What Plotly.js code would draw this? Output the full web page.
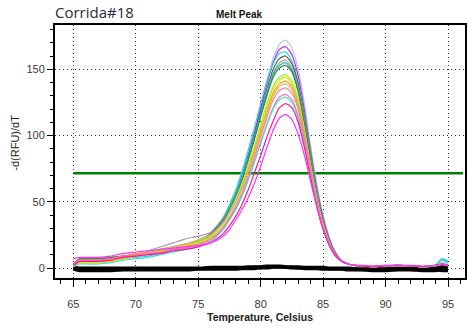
<!DOCTYPE html>
<html>
<head>
<meta charset="utf-8">
<script src="https://cdn.plot.ly/plotly-3.0.1.min.js"></script>
<style>html,body{margin:0;padding:0;background:#fff;}#chart{width:467px;height:331px;}</style>
</head>
<body>
<div id="chart"></div>
<script>
// Temperatures (Celsius)
const temperature = [65,65.5,66,67,68,69,70,71,72,73,74,75,76,76.5,77,77.5,78,78.5,79,79.5,80,80.5,81,81.5,82,82.5,83,83.5,84,84.5,85,85.5,86,86.5,87,87.5,88,89,90,91,92,93,94,94.5,95];

// -d(RFU)/dT melt curves (sample wells)
const wellA = [3,5,5,5,6,8,9,10,12,14,16,19,25,30,37,46,57,71,87,104,123,142,158,169,172,166,150,124,92,63,40,23,12,6,3,2,1.5,1,1.5,2,1.5,1,2,4,3];
const wellB = [2,6,6,6,7,9,10,12,13,15,17,20,25,30,36,45,56,69,85,102,121,139,155,165,167,161,145,119,88,60,38,22,11,5,3,2,1.5,1,1.5,2,1.5,1,2,3,2];
const wellC = [2,4,4,4,5,7,8,9,11,13,15,18,24,30,38,48,59,73,89,106,124,141,154,162,163,156,140,115,86,58,36,21,11,5,3,2,1.5,1,1.5,2,1.5,1,2,6,4];
const wellD = [3,7,7,7,8,9,10,12,14,16,18,21,26,31,37,46,56,69,84,100,118,135,150,158,160,154,139,114,85,57,36,21,11,5,3,2,1.5,1,1.5,2,1.5,1,2,3,2];
const wellE = [2,5,5,5,6,8,10,13,16,19,22,24,27,32,38,46,56,68,83,99,116,133,147,155,157,151,136,112,83,56,35,20,10,5,3,2,1.5,1,1.5,2,1.5,1,2,3,2];
const wellF = [2,5,5,5,6,7,9,11,13,15,17,20,25,30,36,45,55,68,83,99,116,132,146,153,155,149,134,110,82,55,34,20,10,5,3,2,1.5,1,1.5,2,1.5,1,2,7,5];
const wellG = [2,7,7,7,8,9,10,11,13,15,17,20,24,29,35,44,54,66,81,97,114,130,144,151,153,148,133,109,81,54,34,19,10,5,3,2,1.5,1,1.5,2,1.5,1,2,3,2];
const wellH = [1,4,4,4,5,7,9,11,13,15,17,20,24,28,34,42,52,63,77,92,108,124,137,144,146,141,127,104,77,52,32,18,9,5,3,2,1.5,1,1.5,2,1.5,1,2,3,2];
const wellI = [1,4,4,4,5,7,9,11,13,15,17,19,23,28,33,41,51,62,76,91,107,122,135,142,144,139,126,103,77,52,33,19,10,5,3,2,1.5,1,1.5,2,1.5,1,2,3,2];
const wellJ = [2,6,6,6,7,9,11,12,14,16,18,21,25,29,34,41,50,61,74,89,104,119,132,139,141,137,124,102,77,52,33,19,10,5,3,2,2,1.5,2,2,1.5,1,2,3,2];
const wellK = [2,5,5,5,6,8,10,12,14,16,18,21,25,29,34,41,50,60,73,87,102,117,130,137,139,135,122,100,75,51,32,18,9,5,3,2,1.5,1,1.5,2,1.5,1,2,3,2];
const wellL = [2,5,5,5,6,8,9,11,12,14,16,18,22,26,31,38,47,57,70,84,99,114,127,134,136,132,120,98,74,50,31,18,9,5,3,2,1.5,1,1.5,2,1.5,1,2,3,2];
const wellM = [3,6,6,6,7,9,10,11,12,14,15,17,21,25,30,37,45,55,67,81,95,109,121,129,131,127,115,95,71,48,30,17,9,5,3,2,1.5,1,1.5,2,1.5,1,2,3,2];
const wellN = [1,3,3,3,4,6,7,8,10,12,14,16,20,24,29,36,44,54,66,80,94,108,120,127,129,125,113,93,70,47,29,17,9,5,3,2,1.5,1,1.5,2,1.5,1,2,6,4];
const wellO = [2,5,5,5,6,8,9,10,11,13,14,16,19,22,26,32,39,48,59,72,85,99,111,121,124,121,110,91,68,46,29,17,9,5,3,2,1.5,1,1.5,2,1.5,1,2,3,2];
const wellP = [7,8,8,8,9,11,12,13,14,15,16,17,19,21,24,29,36,44,53,64,77,91,104,113,116,112,101,85,65,46,30,18,10,5,3,2,2,1.5,2,2,2,1.5,2,3,2];

// Negative controls / blanks (black)
const blank1 = [0,-1,-1,-1,-1,-0.5,-0.5,-0.5,-0.5,-0.5,-0.5,-0.5,0,0,0,0,0,0,0,0.5,0.5,1,1,1,0.5,0.5,0,0,0,0,0,-0.5,-0.5,-0.5,-0.5,-0.5,-1,-1,-1,-0.5,-0.5,-1,-1.5,-2,-2];
const blank2 = [-1,-2,-2,-2,-2,-1.5,-1.5,-1.5,-1.5,-1.5,-1.5,-1,-1,-1,-1,-1,-1,-0.5,-0.5,-0.5,0,0,0.5,0.5,0.5,0,0,-0.5,-0.5,-0.5,-1,-1,-1,-1,-1.5,-1.5,-1.5,-2,-2,-1.5,-1.5,-2,-2,-1,-1];
const blank3 = [1,0,0,0,0,0,0,0,0,0,0,0,0.5,0.5,0.5,0.5,0.5,0.5,1,1,1,1.5,1.5,1.5,1,1,1,0.5,0.5,0.5,0.5,0,0,0,0,-0.5,-0.5,-0.5,-0.5,0,0,-0.5,0,1,0];

// Threshold
const thresholdValue = 71.5;
const thresholdSpan = [65, 96.2];

const wells = [wellA,wellB,wellC,wellD,wellE,wellF,wellG,wellH,wellI,wellJ,wellK,wellL,wellM,wellN,wellO,wellP];
const wellColors = ['#b4c6ec','#c81ee6','#19e1f0','#5f5f3c','#a0a0a0','#23b4aa','#2e8b57','#80ff20','#e6e600','#ffa500','#d2b48c','#ff8080','#ff69b4','#48e0d0','#ff1493','#ff33ff'];
const blanks = [blank1, blank2, blank3];

const traces = [];
blanks.forEach(b => traces.push({x: temperature, y: b, mode:'lines', line:{color:'#000', width:3, shape:'spline', smoothing:0.6}, hoverinfo:'skip'}));
traces.push({x: thresholdSpan, y:[thresholdValue, thresholdValue], mode:'lines', line:{color:'#008000', width:2.5}, hoverinfo:'skip'});
wells.forEach((w,i) => traces.push({x: temperature, y: w, mode:'lines', line:{color: wellColors[i], width:1.2, shape:'spline', smoothing:0.6}, hoverinfo:'skip'}));

const xr = [63.53, 96.36];
const yr = [-7.55, 183.4];
const tickFont = {family:'Liberation Sans, Arial, sans-serif', size:11, color:'#3a3a3a'};

const layout = {
  width:467, height:331,
  margin:{l:55, r:2, t:25, b:53, pad:0},
  paper_bgcolor:'#fff', plot_bgcolor:'#fff',
  showlegend:false,
  xaxis:{range:xr, autorange:false, tickmode:'array', tickvals:[65,70,75,80,85,90,95], ticktext:['65','70','75','80','85','90','95'],
    ticks:'outside', ticklen:7, tickwidth:1, tickcolor:'#000', tickfont:tickFont, ticklabelstandoff:8,
    showline:true, linecolor:'#000', linewidth:2, mirror:true,
    showgrid:true, gridcolor:'#333', gridwidth:1, griddash:'1px,3px', zeroline:false,
    minor:{tickmode:'linear', tick0:65, dtick:1, ticks:'outside', ticklen:4, tickcolor:'#000', showgrid:false}},
  xaxis2:{overlaying:'x', side:'top', range:xr, autorange:false, tickmode:'linear', tick0:65, dtick:1, ticks:'inside', ticklen:4, tickcolor:'#000',
    showticklabels:false, showgrid:false, zeroline:false, showline:false},
  yaxis:{range:yr, autorange:false, tickmode:'array', tickvals:[0,50,100,150], ticktext:['0','50','100','150'],
    ticks:'outside', ticklen:6, tickwidth:1, tickcolor:'#000', tickfont:tickFont,
    showline:true, linecolor:'#000', linewidth:2, mirror:true,
    showgrid:true, gridcolor:'#333', gridwidth:1, griddash:'1px,3px', zeroline:false,
    minor:{tickmode:'linear', tick0:0, dtick:10, ticks:'outside', ticklen:3, tickcolor:'#000', showgrid:false}},
  yaxis2:{overlaying:'y', side:'right', range:yr, autorange:false, tickmode:'linear', tick0:0, dtick:10, ticks:'inside', ticklen:3, tickcolor:'#000',
    showticklabels:false, showgrid:false, zeroline:false, showline:false},
  yaxis3:{overlaying:'y', side:'left', range:yr, autorange:false, tickmode:'linear', tick0:0, dtick:10, ticks:'inside', ticklen:3, tickcolor:'#000',
    showticklabels:false, showgrid:false, zeroline:false, showline:false},
  annotations:[
    {text:'Corrida#18', xref:'paper', yref:'paper', x:-0.006, y:1, xanchor:'left', yanchor:'bottom', yshift:1, showarrow:false,
      font:{family:'Open Sans, sans-serif', size:15, color:'#2a2a3a'}},
    {text:'<b>Melt Peak</b>', xref:'paper', yref:'paper', x:0.451, y:1, xanchor:'center', yanchor:'bottom', yshift:3, showarrow:false,
      font:{family:'Liberation Sans, Arial, sans-serif', size:10, color:'#111'}},
    {text:'-d(RFU)/dT', xref:'paper', yref:'paper', x:-0.098, y:0.534, xanchor:'center', yanchor:'middle', textangle:-90, showarrow:false,
      font:{family:'Liberation Sans, Arial, sans-serif', size:11, color:'#222'}},
    {text:'<b>Temperature, Celsius</b>', xref:'paper', yref:'paper', x:0.5, y:0, xanchor:'center', yanchor:'top', yshift:-31, showarrow:false,
      font:{family:'Liberation Sans, Arial, sans-serif', size:10.5, color:'#222'}}
  ]
};

Plotly.newPlot('chart', traces, layout, {staticPlot:true, displayModeBar:false});
</script>
</body>
</html>
